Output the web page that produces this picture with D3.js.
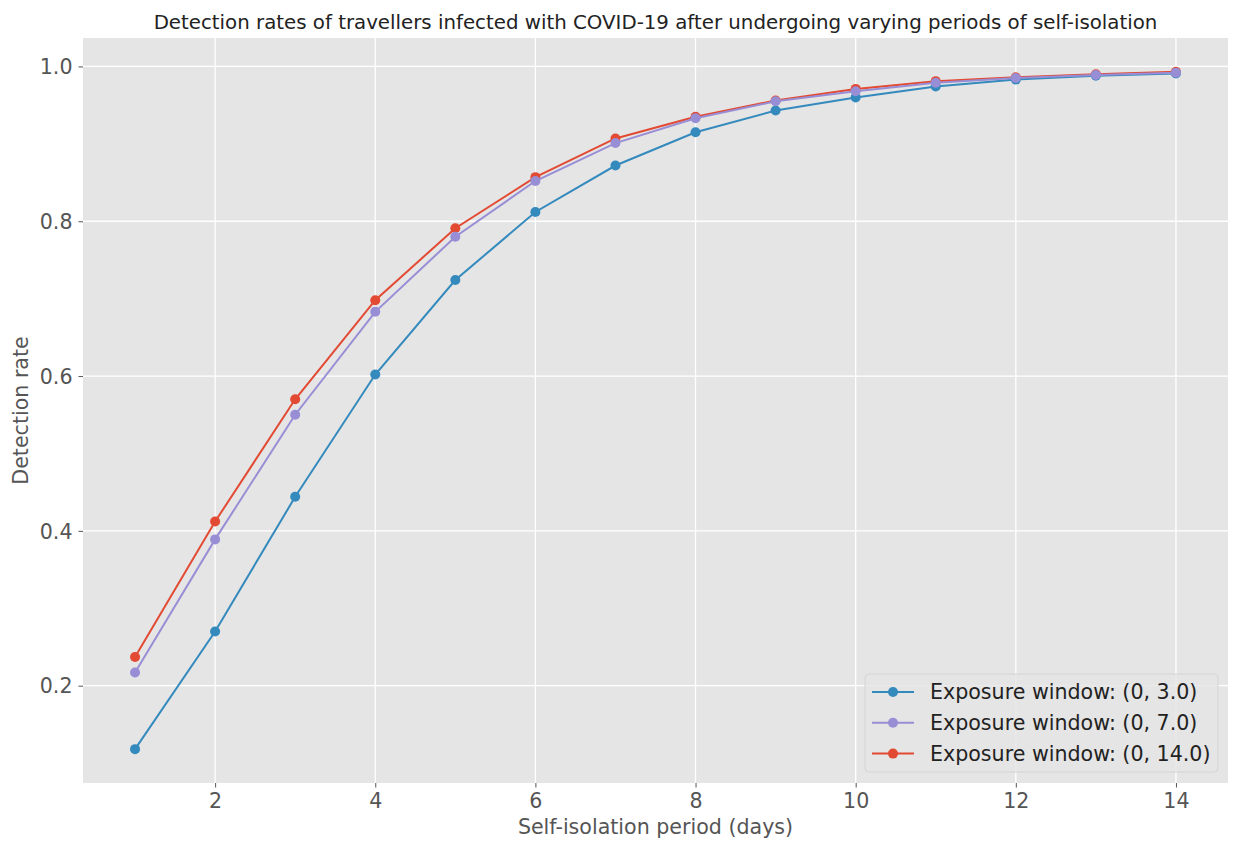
<!DOCTYPE html>
<html>
<head>
<meta charset="utf-8">
<script src="https://cdn.jsdelivr.net/npm/d3@7"></script>
<style>
  body { margin: 0; background: #fff; }
  text { font-family: "DejaVu Sans", sans-serif; }
</style>
</head>
<body>
<div id="chart"></div>
<script>
const WIDTH = 1233, HEIGHT = 842

// data
const days = [1, 2, 3, 4, 5, 6, 7, 8, 9, 10, 11, 12, 13, 14]
const rate3 = [0.118, 0.270, 0.444, 0.602, 0.724, 0.812, 0.872, 0.915, 0.943, 0.960, 0.974, 0.983, 0.988, 0.991]
const rate7 = [0.217, 0.389, 0.550, 0.683, 0.780, 0.852, 0.901, 0.933, 0.955, 0.968, 0.979, 0.985, 0.989, 0.992]
const rate14 = [0.237, 0.412, 0.570, 0.698, 0.791, 0.857, 0.907, 0.935, 0.956, 0.971, 0.981, 0.986, 0.990, 0.993]
const seriesNames = ["Exposure window: (0, 3.0)", "Exposure window: (0, 7.0)", "Exposure window: (0, 14.0)"]
const seriesColors = ["#348ABD", "#988ED5", "#E24A33"]
const xTicks = [2, 4, 6, 8, 10, 12, 14]
const yTicks = [0.2, 0.4, 0.6, 0.8, 1.0]

const series = [rate3, rate7, rate14].map((vals, i) => ({
    name: seriesNames[i], color: seriesColors[i],
    points: days.map((d, j) => ({x: d, y: vals[j]}))
}))

var LEFT = 83, TOP = 38, RIGHT = 1228, BOTTOM = 783
const FS = 20.6

const svg = d3.select("#chart").append("svg").attr("width", WIDTH).attr("height", HEIGHT)

// matplotlib style 5% margins
const xPad = (d3.max(days) - d3.min(days)) * 0.05
const allY = rate3.concat(rate7, rate14)
const yPad = (d3.max(allY) - d3.min(allY)) * 0.05
const x = d3.scaleLinear().domain([d3.min(days) - xPad, d3.max(days) + xPad]).range([LEFT, RIGHT])
const y = d3.scaleLinear().domain([d3.min(allY) - yPad, d3.max(allY) + yPad]).range([BOTTOM, TOP])

svg.append("rect").attr("x", LEFT).attr("y", TOP).attr("width", RIGHT - LEFT).attr("height", BOTTOM - TOP).attr("fill", "#E5E5E5")

// grid
svg.append("g").selectAll("line").data(xTicks).enter().append("line")
    .attr("x1", d => x(d)).attr("x2", d => x(d)).attr("y1", TOP).attr("y2", BOTTOM)
    .attr("stroke", "#fff").attr("stroke-width", 1.3)
svg.append("g").selectAll("line").data(yTicks).enter().append("line")
    .attr("x1", LEFT).attr("x2", RIGHT).attr("y1", d => y(d)).attr("y2", d => y(d))
    .attr("stroke", "#fff").attr("stroke-width", 1.3)

// axes
const gx = svg.append("g").attr("transform", "translate(0," + BOTTOM + ")")
    .call(d3.axisBottom(x).tickValues(xTicks).tickFormat(d3.format("d")).tickSize(4.5).tickPadding(6))
const gy = svg.append("g").attr("transform", "translate(" + LEFT + ",0)")
    .call(d3.axisLeft(y).tickValues(yTicks).tickFormat(d3.format(".1f")).tickSize(4.5).tickPadding(6))
;[gx, gy].forEach(g => {
    g.select(".domain").remove()
    g.selectAll(".tick line").attr("stroke", "#555").attr("stroke-width", 1)
    g.selectAll(".tick text").attr("fill", "#555").attr("font-size", FS).attr("font-family", "DejaVu Sans")
})
gy.selectAll(".tick text").attr("dy", "0.35em")

// lines (red drawn first, purple on top)
const line = d3.line().x(d => x(d.x)).y(d => y(d.y))
const order = [2, 0, 1]
order.forEach(i => {
    const s = series[i]
    const g = svg.append("g")
    g.append("path").datum(s.points).attr("d", line).attr("fill", "none")
        .attr("stroke", s.color).attr("stroke-width", 2)
    g.selectAll("circle").data(s.points).enter().append("circle")
        .attr("cx", d => x(d.x)).attr("cy", d => y(d.y)).attr("r", 5).attr("fill", s.color)
})

// title and labels
svg.append("text").attr("x", (LEFT + RIGHT) / 2).attr("y", 29).attr("text-anchor", "middle")
    .attr("font-size", 19.8).attr("fill", "#222").text("Detection rates of travellers infected with COVID-19 after undergoing varying periods of self-isolation")
svg.append("text").attr("x", (LEFT + RIGHT) / 2).attr("y", 834).attr("text-anchor", "middle")
    .attr("font-size", FS).attr("fill", "#555").text("Self-isolation period (days)")
svg.append("text").attr("transform", "rotate(270)").attr("x", -(TOP + BOTTOM) / 2).attr("y", 28)
    .attr("text-anchor", "middle").attr("font-size", FS).attr("fill", "#555").text("Detection rate")

// legend
const legend = svg.append("g").attr("transform", "translate(865,674)")
legend.append("rect").attr("width", 353).attr("height", 98).attr("rx", 4)
    .attr("fill", "#E5E5E5").attr("fill-opacity", 0.8).attr("stroke", "#d4d4d4")
series.forEach((s, i) => {
    const row = legend.append("g").attr("transform", "translate(0," + (18 + i * 30.8) + ")")
    row.append("line").attr("x1", 7).attr("x2", 49).attr("stroke", s.color).attr("stroke-width", 2)
    row.append("circle").attr("cx", 28).attr("r", 5).attr("fill", s.color)
    row.append("text").attr("x", 65).attr("dy", "0.35em").attr("font-size", FS).attr("fill", "#222").text(s.name)
})
</script>
</body>
</html>
